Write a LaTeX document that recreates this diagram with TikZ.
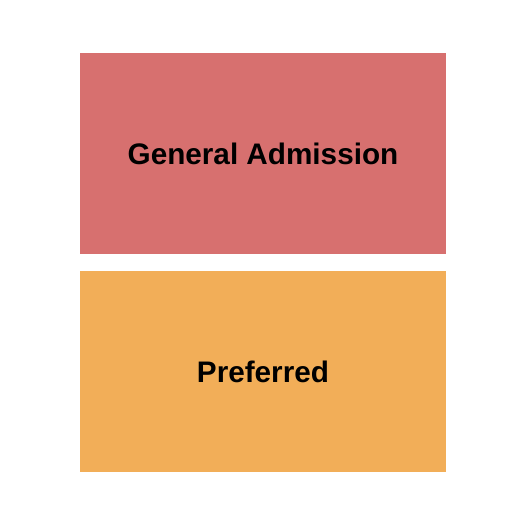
\documentclass[tikz,border=0pt]{standalone}
\usepackage{fontspec}
\setmainfont{Liberation Sans}
\usetikzlibrary{positioning}
\definecolor{gacolor}{HTML}{D7706F}
\definecolor{prefcolor}{HTML}{F2AE58}
\tikzset{section/.style={rectangle, minimum width=366pt, minimum height=201pt, inner sep=0pt, text centered, font=\fontsize{29.7}{34}\selectfont\bfseries}}

\begin{document}
\begin{tikzpicture}[x=1pt, y=-1pt]
	\useasboundingbox (0,0) rectangle (525,525);
	\node[section, fill=gacolor] (genadm) at (263,153.5) {General Admission};
	\node[section, fill=prefcolor, below=17pt of genadm] (preferred) {Preferred};
\end{tikzpicture}
\end{document}
